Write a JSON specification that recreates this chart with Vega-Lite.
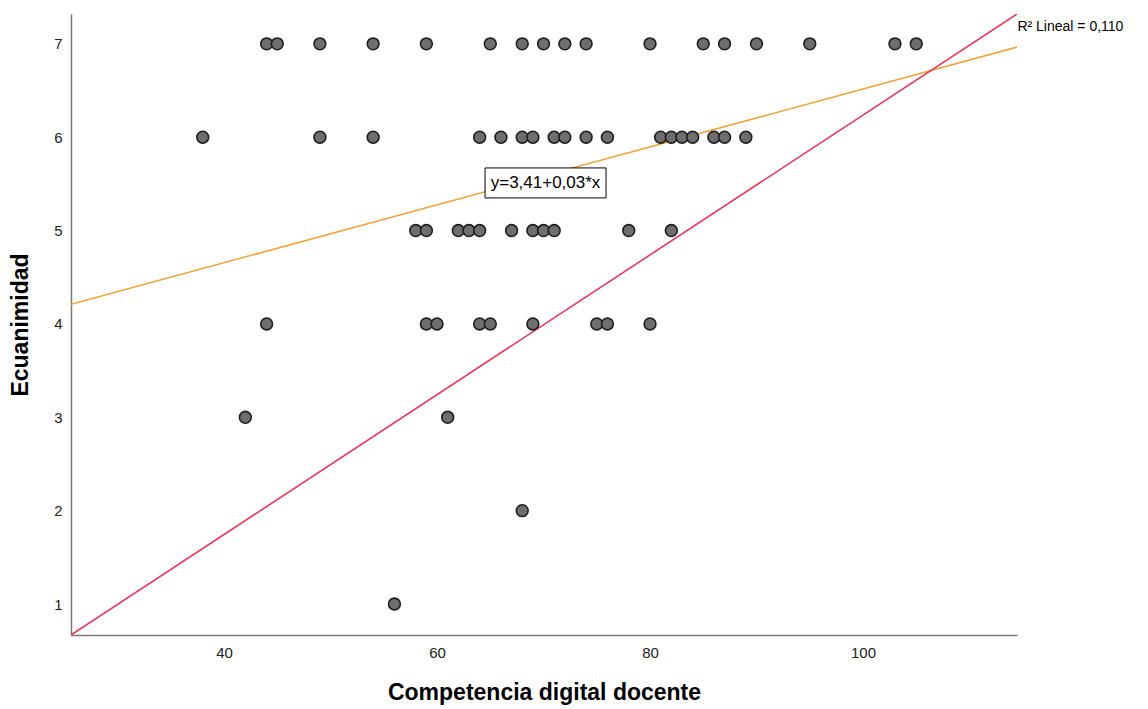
{
  "$schema": "https://vega.github.io/schema/vega-lite/v6.json",
  "width": 946,
  "height": 621,
  "autosize": {"type": "none"},
  "padding": {"left": 71, "top": 14, "right": 131, "bottom": 74},
  "background": "white",
  "config": {
    "view": {"stroke": null},
    "font": "Liberation Sans",
    "axis": {"grid": false, "ticks": false, "domainColor": "#777777", "domainWidth": 1.5, "labelColor": "#222222", "titleColor": "#000000", "labelFont": "Liberation Sans", "titleFont": "Liberation Sans"}
  },
  "datasets": {
    "pts": [
      {"comp": 44, "ecu": 7}, {"comp": 45, "ecu": 7}, {"comp": 49, "ecu": 7}, {"comp": 54, "ecu": 7}, {"comp": 59, "ecu": 7},
      {"comp": 65, "ecu": 7}, {"comp": 68, "ecu": 7}, {"comp": 70, "ecu": 7}, {"comp": 72, "ecu": 7}, {"comp": 74, "ecu": 7},
      {"comp": 80, "ecu": 7}, {"comp": 85, "ecu": 7}, {"comp": 87, "ecu": 7}, {"comp": 90, "ecu": 7}, {"comp": 95, "ecu": 7},
      {"comp": 103, "ecu": 7}, {"comp": 105, "ecu": 7},
      {"comp": 38, "ecu": 6}, {"comp": 49, "ecu": 6}, {"comp": 54, "ecu": 6}, {"comp": 64, "ecu": 6}, {"comp": 66, "ecu": 6},
      {"comp": 68, "ecu": 6}, {"comp": 69, "ecu": 6}, {"comp": 71, "ecu": 6}, {"comp": 72, "ecu": 6}, {"comp": 74, "ecu": 6},
      {"comp": 76, "ecu": 6}, {"comp": 81, "ecu": 6}, {"comp": 82, "ecu": 6}, {"comp": 83, "ecu": 6}, {"comp": 84, "ecu": 6},
      {"comp": 86, "ecu": 6}, {"comp": 87, "ecu": 6}, {"comp": 89, "ecu": 6},
      {"comp": 58, "ecu": 5}, {"comp": 59, "ecu": 5}, {"comp": 62, "ecu": 5}, {"comp": 63, "ecu": 5}, {"comp": 64, "ecu": 5},
      {"comp": 67, "ecu": 5}, {"comp": 69, "ecu": 5}, {"comp": 70, "ecu": 5}, {"comp": 71, "ecu": 5}, {"comp": 78, "ecu": 5},
      {"comp": 82, "ecu": 5},
      {"comp": 44, "ecu": 4}, {"comp": 59, "ecu": 4}, {"comp": 60, "ecu": 4}, {"comp": 64, "ecu": 4}, {"comp": 65, "ecu": 4},
      {"comp": 69, "ecu": 4}, {"comp": 75, "ecu": 4}, {"comp": 76, "ecu": 4}, {"comp": 80, "ecu": 4},
      {"comp": 42, "ecu": 3}, {"comp": 61, "ecu": 3},
      {"comp": 68, "ecu": 2},
      {"comp": 56, "ecu": 1}
    ],
    "fit": [{"comp": 25.63, "ecu": 4.21}, {"comp": 114.46, "ecu": 6.965}],
    "ref": [{"comp": 25.63, "ecu": 0.668}, {"comp": 114.46, "ecu": 7.32}],
    "box": [{"x1": 64.51, "x2": 75.87, "y1": 5.35, "y2": 5.671, "xc": 70.19, "yc": 5.51, "label": "y=3,41+0,03*x"}],
    "r2": [{"comp": 114.5, "ecu": 7.185, "label": "R² Lineal = 0,110"}]
  },
  "layer": [
    {
      "data": {"name": "fit"},
      "mark": {"type": "line", "color": "#f2a33a", "strokeWidth": 1.6, "clip": true},
      "encoding": {
        "x": {"field": "comp", "type": "quantitative", "scale": {"domain": [25.63, 114.46], "nice": false, "zero": false},
              "axis": {"values": [40, 60, 80, 100], "format": "d", "title": "Competencia digital docente", "labelFontSize": 15, "labelPadding": 10, "titleFontSize": 23, "titleFontWeight": "bold", "titlePadding": 21}},
        "y": {"field": "ecu", "type": "quantitative", "scale": {"domain": [0.668, 7.32], "nice": false, "zero": false},
              "axis": {"values": [1, 2, 3, 4, 5, 6, 7], "format": "d", "title": "Ecuanimidad", "labelFontSize": 15, "labelPadding": 9, "titleFontSize": 23, "titleFontWeight": "bold", "titlePadding": 21}}
      }
    },
    {
      "data": {"name": "ref"},
      "mark": {"type": "line", "color": "#e5375b", "strokeWidth": 1.6, "clip": true},
      "encoding": {
        "x": {"field": "comp", "type": "quantitative"},
        "y": {"field": "ecu", "type": "quantitative"}
      }
    },
    {
      "data": {"name": "pts"},
      "mark": {"type": "point", "shape": "circle", "filled": true, "fill": "#6e6e6e", "stroke": "#1e1e1e", "strokeWidth": 1.6, "size": 140, "opacity": 1},
      "encoding": {
        "x": {"field": "comp", "type": "quantitative"},
        "y": {"field": "ecu", "type": "quantitative"}
      }
    },
    {
      "data": {"name": "box"},
      "mark": {"type": "rect", "fill": "white", "stroke": "#000000", "strokeWidth": 1},
      "encoding": {
        "x": {"field": "x1", "type": "quantitative"},
        "x2": {"field": "x2"},
        "y": {"field": "y1", "type": "quantitative"},
        "y2": {"field": "y2"}
      }
    },
    {
      "data": {"name": "box"},
      "mark": {"type": "text", "fontSize": 17, "color": "#000000", "align": "center", "baseline": "middle", "font": "Liberation Sans"},
      "encoding": {
        "x": {"field": "xc", "type": "quantitative"},
        "y": {"field": "yc", "type": "quantitative"},
        "text": {"field": "label"}
      }
    },
    {
      "data": {"name": "r2"},
      "mark": {"type": "text", "fontSize": 14, "color": "#000000", "align": "left", "baseline": "middle", "clip": false, "font": "Liberation Sans"},
      "encoding": {
        "x": {"field": "comp", "type": "quantitative"},
        "y": {"field": "ecu", "type": "quantitative"},
        "text": {"field": "label"}
      }
    }
  ]
}
